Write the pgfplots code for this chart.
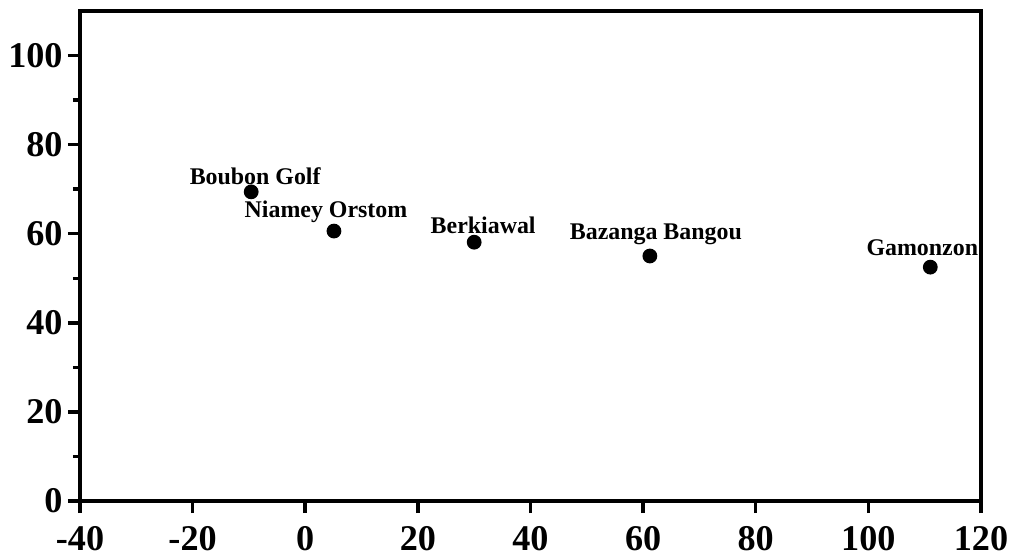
\documentclass[border=0pt]{standalone}
\usepackage{pgfplots}
\pgfplotsset{compat=1.18}
\usepackage{fontspec}
\setmainfont{Liberation Serif}

\begin{document}
\begin{tikzpicture}
\begin{axis}[
    at={(0,0)}, anchor=south west,
    scale only axis, width=90.1mm, height=49mm,
    xmin=-40, xmax=120, ymin=0, ymax=110,
    xtick={-40,-20,...,120}, ytick={0,20,...,100},
    minor ytick={10,30,...,90},
    tick align=outside, tick pos=left,
    major tick length=1.2mm, minor tick length=0.7mm,
    axis line style={line width=1.1pt},
    every tick/.style={line width=1pt, black},
    tick label style={font=\fontsize{10.3}{12}\selectfont\bfseries},
    yticklabel style={xshift=0.7mm},
    xticklabel style={yshift=-0.15mm},
    /pgf/number format/assume math mode=true,
]
\addplot[only marks, mark=*, mark size=1.9pt, black,
    nodes near coords, point meta=explicit symbolic,
    visualization depends on={\thisrow{dx} \as \dx},
    visualization depends on={\thisrow{dy} \as \dy},
    every node near coord/.append style={anchor=center, inner sep=0pt,
        xshift=\dx mm, yshift=\dy mm,
        font=\fontsize{6.8}{8}\selectfont\bfseries}]
    table[col sep=comma, meta=label] {
x,y,dx,dy,label
-9.6,69.4,0.4,1.6,Boubon Golf
5.1,60.6,-0.8,1.9,Niamey Orstom
30.0,58.1,0.9,1.7,Berkiawal
61.2,55.0,0.6,2.2,Bazanga Bangou
111.0,52.5,-0.8,1.9,Gamonzon
};
\end{axis}
\pgfresetboundingbox
\path[use as bounding box] (-8mm,-5.5mm) rectangle (92.9mm,50.1mm);
\end{tikzpicture}
\end{document}
